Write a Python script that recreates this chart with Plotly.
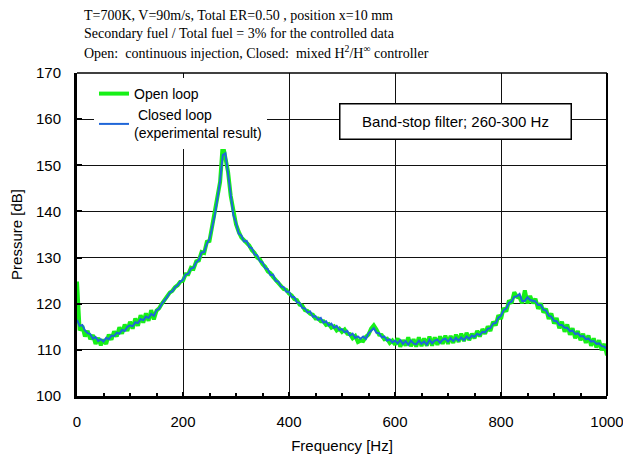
import plotly.graph_objects as go

# Frequency grid (Hz), 5 Hz steps
freq = [i * 5 for i in range(201)]

open_loop = [
    124.8, 114.2, 115.2, 112.9, 114.1, 112.3, 113.2, 111.3, 112.6, 111.0,
    112.2, 111.3, 113.3, 112.2, 114.0, 112.9, 114.9, 113.5, 115.5, 114.1,
    116.1, 114.6, 116.8, 115.2, 117.5, 115.9, 117.9, 116.3, 118.6, 116.6,
    118.5, 119.0, 120.0, 120.8, 121.3, 122.4, 122.8, 123.6, 124.0, 124.8,
    125.0, 126.4, 126.4, 127.8, 127.6, 129.2, 129.4, 131.2, 131.0, 133.4,
    133.6, 136.8, 138.8, 143.2, 146.4, 154.6, 152.0, 148.6, 143.4, 139.6,
    137.2, 135.6, 134.4, 133.8, 133.2, 132.6, 131.6, 131.0, 130.0, 129.6,
    128.6, 128.0, 127.0, 126.6, 125.8, 125.1, 124.4, 124.0, 123.2, 123.0,
    122.2, 121.8, 121.0, 120.8, 119.8, 119.6, 118.6, 118.4, 117.8, 117.6,
    116.8, 116.8, 116.2, 116.2, 115.4, 115.6, 114.8, 115.1, 114.2, 114.6,
    113.9, 114.4, 113.5, 113.4, 112.5, 113.0, 111.7, 112.0, 111.9, 112.8,
    113.3, 114.6, 115.3, 114.4, 113.3, 113.2, 112.3, 112.4, 111.5, 112.0,
    111.1, 112.5, 110.7, 112.1, 110.9, 112.7, 110.8, 112.3, 110.7, 112.7,
    110.8, 112.5, 110.9, 112.9, 110.9, 112.7, 111.1, 112.9, 111.3, 113.1,
    111.3, 113.0, 111.5, 113.3, 111.7, 113.5, 111.9, 113.7, 112.1, 113.5,
    112.5, 114.1, 112.9, 114.5, 113.5, 115.1, 114.1, 116.1, 115.3, 117.5,
    116.7, 119.1, 118.3, 120.7, 120.1, 122.5, 121.5, 121.3, 120.1, 122.9,
    120.1, 121.7, 120.1, 121.1, 118.9, 120.1, 118.1, 118.9, 116.7, 117.9,
    115.7, 116.9, 114.7, 116.1, 113.9, 115.5, 113.3, 114.7, 112.5, 114.1,
    112.1, 113.5, 111.5, 113.1, 110.9, 112.5, 110.5, 112.1, 109.9, 111.3,
    108.8,
]

closed_loop = [
    116.5, 115.2, 115.4, 114.2, 113.6, 113.4, 112.4, 112.8, 111.9, 112.3,
    111.8, 112.6, 112.3, 113.1, 113.0, 113.7, 113.5, 114.3, 114.1, 115.0,
    115.3, 115.1, 116.0, 115.8, 116.7, 116.4, 117.2, 116.9, 117.8, 117.4,
    118.6, 118.9, 120.0, 120.6, 121.4, 122.4, 122.7, 123.6, 124.0, 124.8,
    125.2, 126.3, 126.5, 127.6, 127.8, 129.0, 129.5, 131.1, 131.2, 133.0,
    134.0, 136.5, 139.2, 142.8, 146.6, 152.2, 152.6, 148.2, 143.8, 139.2,
    137.6, 135.2, 134.8, 133.5, 133.6, 132.3, 132.0, 130.7, 130.5, 129.2,
    129.0, 127.7, 127.5, 126.2, 126.3, 124.9, 124.8, 123.7, 123.6, 122.6,
    122.6, 121.5, 121.4, 120.3, 120.2, 119.1, 119.0, 118.1, 118.3, 117.2,
    117.3, 116.5, 116.9, 115.9, 116.2, 115.3, 115.7, 114.8, 115.2, 114.3,
    114.5, 113.8, 114.1, 113.1, 113.5, 112.6, 112.9, 112.4, 112.9, 112.4,
    113.6, 114.1, 114.7, 113.7, 113.6, 112.7, 112.9, 112.0, 112.3, 111.6,
    112.0, 111.4, 112.1, 111.3, 111.9, 111.1, 112.0, 111.4, 111.2, 112.0,
    111.3, 111.8, 111.1, 112.2, 111.4, 112.0, 112.2, 111.5, 112.2, 112.4,
    111.8, 112.5, 111.9, 112.6, 112.0, 112.7, 112.1, 112.9, 112.4, 113.1,
    112.8, 113.5, 113.2, 113.9, 113.8, 114.6, 114.7, 115.7, 115.8, 117.0,
    117.4, 118.6, 119.0, 120.2, 120.5, 121.5, 121.6, 122.1, 120.6, 120.6,
    121.4, 120.8, 120.7, 120.5, 119.7, 119.7, 118.7, 118.5, 117.4, 117.2,
    116.3, 116.2, 115.4, 115.4, 114.8, 114.8, 114.0, 114.2, 113.4, 113.6,
    112.9, 113.0, 112.3, 112.5, 111.8, 111.9, 111.3, 111.4, 110.8, 110.7,
    110.2,
]

x_ticks = [0, 200, 400, 600, 800, 1000]
y_ticks = [100, 110, 120, 130, 140, 150, 160, 170]

header_lines = [
    "T=700K, V=90m/s, Total ER=0.50 , position x=10 mm",
    "Secondary fuel / Total fuel = 3% for the controlled data",
    "Open:  continuous injection, Closed:  mixed H<sup>2</sup>/H<sup>\u221e</sup> controller",
]
filter_label = "Band-stop filter; 260-300 Hz"

SANS = "Arial, Liberation Sans, sans-serif"
SERIF = "Times New Roman, Liberation Serif, serif"

fig = go.Figure()
fig.add_trace(go.Scatter(
    x=freq, y=open_loop, mode="lines", name="Open loop",
    line=dict(color="#17F017", width=4),
))
fig.add_trace(go.Scatter(
    x=freq, y=closed_loop, mode="lines",
    name="\u00a0Closed loop<br>(experimental result)",
    line=dict(color="#1F66D8", width=2),
))

W, H = 623, 460
# plot box on the page: left 77, right 607, top 73, bottom 396
SL, SR, ST, SB = 77, 607, 73, 396
pw, ph = SR - SL, SB - ST

def px_x(p):
    return (p - SL) / pw

def px_y(p):
    return (SB - p) / ph

annotations = []
for line, ypix in zip(header_lines, [16, 34, 52]):
    annotations.append(dict(
        text=line, xref="paper", yref="paper", x=px_x(82), y=px_y(ypix),
        xanchor="left", yanchor="middle", showarrow=False,
        font=dict(family=SERIF, size=14, color="black"),
    ))

annotations.append(dict(
    text=filter_label, xref="paper", yref="paper",
    x=px_x(455), y=px_y(121), xanchor="center", yanchor="middle",
    showarrow=False, font=dict(family=SANS, size=15, color="black"),
    bgcolor="white", bordercolor="black", borderwidth=1.5,
    width=228, height=32, borderpad=1,
))

fig.update_layout(
    width=W, height=H,
    margin=dict(l=SL, r=W - SR, t=ST, b=H - SB, pad=0, autoexpand=False),
    paper_bgcolor="white", plot_bgcolor="white",
    font=dict(family=SANS, size=15, color="black"),
    showlegend=True,
    legend=dict(
        x=px_x(94), y=px_y(78), xanchor="left", yanchor="top",
        bgcolor="white", borderwidth=0,
        font=dict(family=SANS, size=14, color="black"),
        itemwidth=30, tracegroupgap=0, valign="middle",
    ),
    annotations=annotations,
    shapes=[
        dict(type="line", xref="paper", yref="paper", x0=0, x1=1, y0=1, y1=1,
             line=dict(color="black", width=1.5)),
        dict(type="line", xref="paper", yref="paper", x0=1, x1=1, y0=0, y1=1,
             line=dict(color="black", width=2)),
    ],
)

fig.update_xaxes(
    range=[0, 1000], tickvals=x_ticks, ticktext=[str(v) for v in x_ticks],
    showgrid=True, gridcolor="#111111", gridwidth=1,
    showline=True, linecolor="black", linewidth=3,
    ticks="inside", ticklen=4, tickwidth=2, tickcolor="black",
    minor=dict(dtick=50, tick0=0, ticks="inside", ticklen=3, tickwidth=2,
               tickcolor="black", showgrid=False),
    zeroline=False, ticklabelstandoff=10, automargin=False,
    ticklabeloverflow="allow",
    tickfont=dict(family=SANS, size=15),
    title=dict(text="Frequency [Hz]", font=dict(family=SANS, size=15), standoff=12),
)
fig.update_yaxes(
    range=[100, 170], tickvals=y_ticks, ticktext=[str(v) for v in y_ticks],
    showgrid=True, gridcolor="#111111", gridwidth=1,
    showline=True, linecolor="black", linewidth=3,
    ticks="inside", ticklen=5, tickwidth=2, tickcolor="black",
    zeroline=False, ticklabelstandoff=10, automargin=False,
    ticklabeloverflow="allow",
    tickfont=dict(family=SANS, size=15),
    title=dict(text="Pressure [dB]", font=dict(family=SANS, size=15), standoff=10),
)

fig.write_html(
    "out.html",
    config={"displayModeBar": False},
    post_script="document.body.style.margin='0';document.body.style.overflow='hidden';",
)
